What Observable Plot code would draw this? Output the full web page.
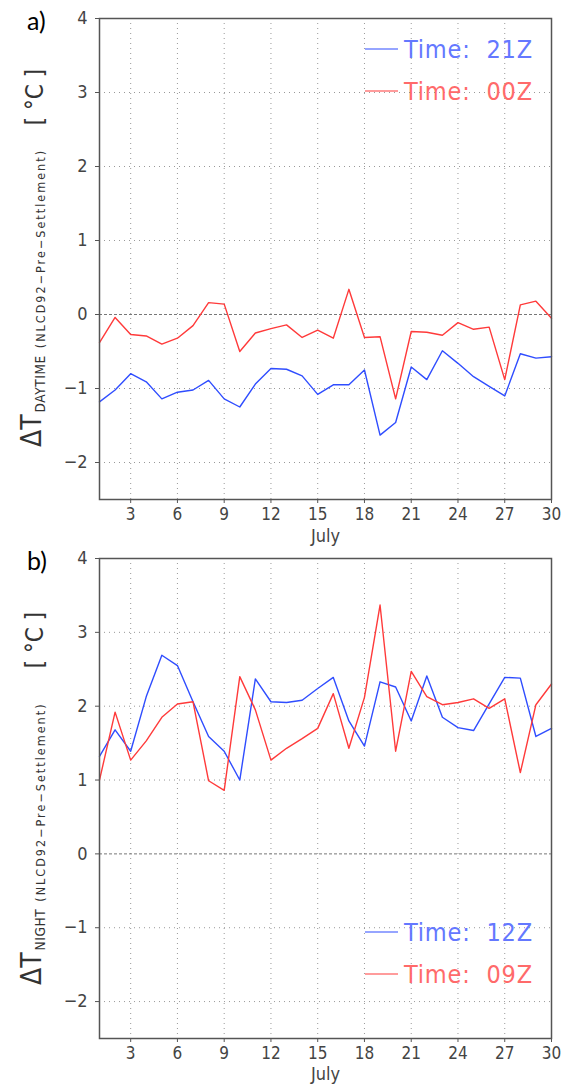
<!DOCTYPE html>
<html><head><meta charset="utf-8">
<script src="https://cdn.jsdelivr.net/npm/d3@7"></script>
<script src="https://cdn.jsdelivr.net/npm/@observablehq/plot@0.6"></script>
<style>body{margin:0;background:#fff} svg{display:block}</style>
</head><body><div id="chart"></div>
<script>
// ---- data ----
const days = [1,2,3,4,5,6,7,8,9,10,11,12,13,14,15,16,17,18,19,20,21,22,23,24,25,26,27,28,29,30];
const day21Z = [-1.18,-1.02,-0.80,-0.91,-1.14,-1.05,-1.02,-0.89,-1.14,-1.25,-0.94,-0.73,-0.74,-0.83,-1.08,-0.95,-0.95,-0.75,-1.63,-1.46,-0.71,-0.88,-0.49,-0.66,-0.84,-0.97,-1.10,-0.53,-0.59,-0.57];
const day00Z = [-0.38,-0.04,-0.27,-0.29,-0.40,-0.32,-0.15,0.16,0.14,-0.50,-0.25,-0.19,-0.14,-0.31,-0.21,-0.32,0.34,-0.31,-0.30,-1.14,-0.23,-0.24,-0.28,-0.11,-0.20,-0.17,-0.88,0.13,0.18,-0.05];
const night12Z = [1.32,1.68,1.39,2.13,2.69,2.55,2.06,1.59,1.39,1.00,2.37,2.06,2.05,2.08,2.24,2.39,1.80,1.46,2.33,2.26,1.80,2.41,1.85,1.71,1.67,2.03,2.39,2.38,1.59,1.70];
const night09Z = [1.00,1.92,1.27,1.53,1.85,2.03,2.06,0.99,0.86,2.40,1.95,1.27,1.43,1.56,1.70,2.17,1.43,2.12,3.37,1.39,2.47,2.13,2.02,2.05,2.10,1.97,2.10,1.10,2.02,2.30];
const xTicks = [3,6,9,12,15,18,21,24,27,30];
const xGrid = [3,6,9,12,15,18,21,24,27];
const yTicks = [-2,-1,0,1,2,3,4];
const yGrid = [-2,-1,1,2,3,4];
const xLabel = "July";

const BLUE = "#2f4dff", RED = "#ff3a3a";
const FONT = '"DejaVu Sans Condensed","DejaVu Sans",sans-serif';

function rows(vals){ return days.map((d,i)=>({day:d, value:vals[i]})); }

function panel(opt){
  const svg = Plot.plot({
    width:565, height:opt.height,
    marginLeft:99, marginRight:14, marginTop:opt.marginTop, marginBottom:opt.marginBottom,
    style:{fontFamily:FONT, fontStretch:"condensed", background:"#fff", overflow:"visible"},
    x:{domain:[1,30]},
    y:{domain:[-2.5,4]},
    marks:[
      Plot.gridX(xGrid,{stroke:"#999", strokeOpacity:1, strokeDasharray:"1,4"}),
      Plot.gridY(yGrid,{stroke:"#999", strokeOpacity:1, strokeDasharray:"1,4"}),
      Plot.ruleY([0],{stroke:"#777", strokeDasharray:"3,2", strokeWidth:1}),
      Plot.lineY(rows(opt.s1),{x:"day", y:"value", stroke:BLUE, strokeWidth:1.4}),
      Plot.lineY(rows(opt.s2),{x:"day", y:"value", stroke:RED, strokeWidth:1.4}),
      Plot.frame({stroke:"#555", strokeWidth:1.5}),
      Plot.axisX(xTicks,{tickSize:4, tickPadding:4, fontSize:17, label:null, stroke:"#555", fill:"#444"}),
      Plot.axisY(yTicks,{tickSize:4, tickPadding:8, fontSize:18, label:null, stroke:"#555", fill:"#444", tickFormat:d=>d<0?"\u2212"+Math.abs(d):String(d)}),
      Plot.text([xLabel],{frameAnchor:"bottom", dy:opt.julyDy, lineAnchor:"middle", fontSize:18, fill:"#444"})
    ]
  });
  const s = d3.select(svg);
  // panel letter
  s.append("text").attr("x",27).attr("y",opt.letterY).attr("font-family","Lato,'Open Sans',sans-serif")
    .attr("text-anchor","start").attr("font-size",25).attr("fill","#000").text(opt.letter);
  // legend
  opt.legend.forEach((L,i)=>{
    const y = opt.legendY + i*42;
    s.append("line").attr("x1",365).attr("x2",398).attr("y1",y).attr("y2",y)
      .attr("stroke",L.color).attr("stroke-width",1.2);
    s.append("text").attr("x",404).attr("y",y+9).attr("font-family",FONT)
      .attr("text-anchor","start").attr("font-size",25).attr("letter-spacing",0.8).attr("fill",L.text)
      .attr("xml:space","preserve").text(L.label);
  });
  // y label
  const t = s.append("text").attr("transform",`translate(41,${opt.labelY}) rotate(-90)`)
    .attr("text-anchor","start").attr("font-family","'DejaVu Sans',sans-serif").attr("fill","#333");
  t.append("tspan").attr("font-size",28).text("\u0394T");
  t.append("tspan").attr("font-size",13.5).attr("dy",4).attr("dx",2).attr("letter-spacing",0.6).text(opt.sub);
  t.append("tspan").attr("font-size",12.5).attr("dx",7).attr("letter-spacing",2).text("(NLCD92\u2212Pre\u2212Settlement)");
  s.append("text").attr("transform",`translate(43,${opt.unitY}) rotate(-90)`)
    .attr("font-family",FONT).attr("font-size",24).attr("fill","#333")
    .attr("text-anchor","middle").attr("xml:space","preserve").text("[ \u00b0C ]");
  return svg;
}

const root = document.getElementById("chart");
root.append(panel({height:548, marginTop:18, marginBottom:49, s1:day21Z, s2:day00Z, letter:"a)", sub:"DAYTIME",
  letterY:30, legendY:49, labelY:447, unitY:97, julyDy:37,
  legend:[{label:"Time:  21Z", color:BLUE, text:"#6478ff"},{label:"Time:  00Z", color:RED, text:"#ff6a6a"}]}));
root.append(panel({height:536, marginTop:10, marginBottom:46, s1:night12Z, s2:night09Z, letter:"b)", sub:"NIGHT",
  letterY:22, legendY:384, labelY:437, unitY:92, julyDy:36,
  legend:[{label:"Time:  12Z", color:BLUE, text:"#6478ff"},{label:"Time:  09Z", color:RED, text:"#ff6a6a"}]}));
</script></body></html>
